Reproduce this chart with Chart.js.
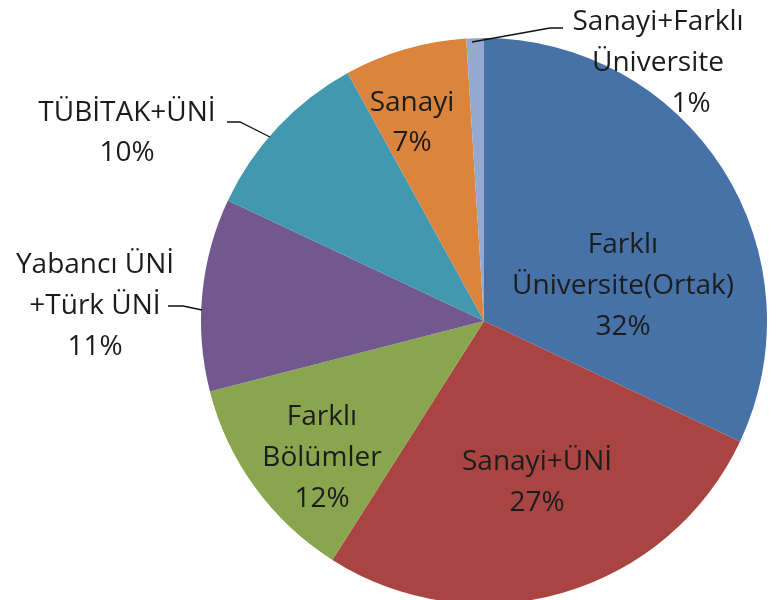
<!DOCTYPE html>
<html>
<head>
<meta charset="utf-8">
<script src="https://cdn.jsdelivr.net/npm/chart.js@4/dist/chart.umd.min.js"></script>
<style>
  html, body { margin: 0; padding: 0; background: #fff; }
  #wrap { width: 776px; height: 600px; overflow: hidden; position: relative; }
</style>
</head>
<body>
<div id="wrap"><canvas id="pie" width="776" height="610"></canvas></div>
<script>
var categories = [
    ["Farklı", "Üniversite(Ortak)"],
    ["Sanayi+ÜNİ"],
    ["Farklı", "Bölümler"],
    ["Yabancı ÜNİ", "+Türk ÜNİ"],
    ["TÜBİTAK+ÜNİ"],
    ["Sanayi"],
    ["Sanayi+Farklı", "Üniversite"]
];
var percentValues = [32, 27, 12, 11, 10, 7, 1];
var sliceColors = ["#4672a8", "#a84542", "#89a54e", "#71588f", "#4298af", "#db843d", "#93a9cf"];

// where each label sits (line centres) and its leader line, if any
var labelLayout = [
    { x: 623, y: 245, step: 41 },
    { x: 537, y: 462, step: 41 },
    { x: 322, y: 417, step: 41 },
    { x: 95, y: 265, step: 41, lead: [[168, 306], [183, 306], [202, 310]] },
    { x: 127, y: 113, step: 40, lead: [[227, 122], [240, 122], [270, 137]] },
    { x: 412, y: 103, step: 40 },
    { x: 658, y: 22, step: 41, pctX: 691, lead: [[472, 42], [550, 28], [563, 28]] }
];

var labelPlugin = {
    id: "sliceLabels",
    afterDatasetsDraw: function(chart) {
        var ctx = chart.ctx;
        ctx.save();
        ctx.font = "28px 'Open Sans'";
        ctx.fillStyle = "#1c1c1c";
        ctx.textAlign = "center";
        ctx.textBaseline = "middle";
        for (var i = 0; i < categories.length; i++) {
            var lay = labelLayout[i];
            var lines = categories[i];
            for (var j = 0; j < lines.length; j++) {
                ctx.fillText(lines[j], lay.x, lay.y + j * lay.step);
            }
            var px = lay.pctX ? lay.pctX : lay.x;
            ctx.fillText(percentValues[i] + "%", px, lay.y + lines.length * lay.step);
            if (lay.lead) {
                ctx.strokeStyle = "#111";
                ctx.lineWidth = 1.3;
                ctx.beginPath();
                ctx.moveTo(lay.lead[0][0], lay.lead[0][1]);
                for (var k = 1; k < lay.lead.length; k++) {
                    ctx.lineTo(lay.lead[k][0], lay.lead[k][1]);
                }
                ctx.stroke();
            }
        }
        ctx.restore();
    }
};

new Chart(document.getElementById("pie"), {
    type: "pie",
    data: {
        labels: categories.map(function(c) { return c.join(" "); }),
        datasets: [{
            data: percentValues,
            backgroundColor: sliceColors,
            borderWidth: 0
        }]
    },
    options: {
        responsive: false,
        animation: false,
        layout: { padding: { left: 201, right: 9, top: 38, bottom: 6 } },
        plugins: {
            legend: { display: false },
            tooltip: { enabled: false }
        }
    },
    plugins: [labelPlugin]
});
</script>
</body>
</html>
